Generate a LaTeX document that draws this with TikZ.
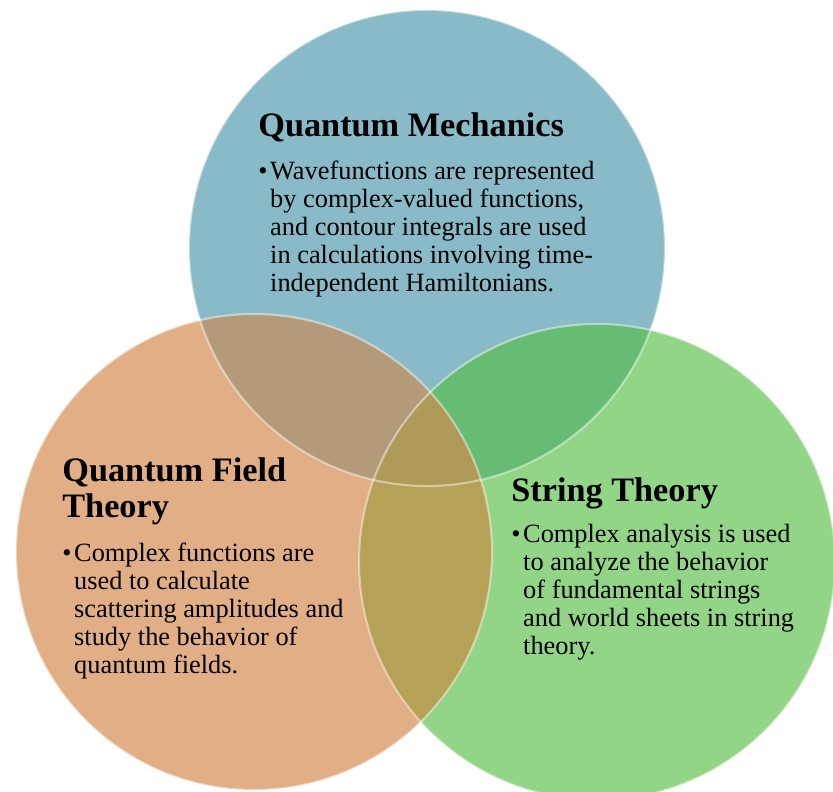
\documentclass[tikz,border=0pt]{standalone}
\usepackage{fontspec}
\setmainfont{Liberation Serif}
\usetikzlibrary{positioning}

\definecolor{qmblue}{HTML}{88BAC7}
\definecolor{qftorange}{HTML}{E1AE85}
\definecolor{stgreen}{HTML}{92D586}
\definecolor{qmqft}{HTML}{B39B7A}
\definecolor{qmst}{HTML}{66BC73}
\definecolor{qftst}{HTML}{B6A256}
\definecolor{allthree}{HTML}{AE9B5A}

\begin{document}
\begin{tikzpicture}[
  headtext/.style={inner sep=0pt, anchor=base west,
    font=\fontsize{19.5}{20}\selectfont\bfseries},
  bodytext/.style={inner sep=0pt, anchor=base west,
    font=\fontsize{15}{15.9}\selectfont}]

\def\rr{4.76}  %% all three circles share one radius
\useasboundingbox (0,0) rectangle (16.66,15.82);

%% Circle centres
\coordinate (cQM)  at (8.54,10.86);
\coordinate (cQFT) at (5.08,4.78);
\coordinate (cST)  at (11.94,4.58);

%% Circles
\fill[qmblue]    (cQM)  circle (\rr);
\fill[stgreen]   (cST)  circle (\rr);
\fill[qftorange] (cQFT) circle (\rr);

%% Overlaps
\begin{scope}
  \clip (cQM) circle (\rr);
  \fill[qmst]  (cST)  circle (\rr);
  \fill[qmqft] (cQFT) circle (\rr);
\end{scope}
\begin{scope}
  \clip (cST) circle (\rr);
  \fill[qftst] (cQFT) circle (\rr);
  \clip (cQM) circle (\rr);
  \fill[allthree] (cQFT) circle (\rr);
\end{scope}

%% Glassy rims
\foreach \c in {cQM, cST, cQFT}
  \draw[white, opacity=0.45, line width=1.2pt] (\c) circle (\rr);

%% Quantum Mechanics
\node[headtext] (qmT) at (5.16,13.08) {Quantum Mechanics};
\node[bodytext] (qmB) at ([yshift=-0.86cm]qmT.base west)
  {\begin{tabular}[t]{@{}l@{\hspace{1.5pt}}l@{}}
   \textbullet & Wavefunctions are represented\\
               & by complex-valued functions,\\
               & and contour integrals are used\\
               & in calculations involving time-\\
               & independent Hamiltonians.
   \end{tabular}};

%% Quantum Field Theory
\node[headtext] (qftT) at (1.24,6.18)
  {\begin{tabular}[t]{@{}l@{}}Quantum Field\\Theory\end{tabular}};
\node[bodytext] (qftB) at ([yshift=-1.60cm]qftT.base west)
  {\begin{tabular}[t]{@{}l@{\hspace{1.5pt}}l@{}}
   \textbullet & Complex functions are\\
               & used to calculate\\
               & scattering amplitudes and\\
               & study the behavior of\\
               & quantum fields.
   \end{tabular}};

%% String Theory
\node[headtext] (stT) at (10.22,5.78) {String Theory};
\node[bodytext] (stB) at ([yshift=-0.82cm]stT.base west)
  {\begin{tabular}[t]{@{}l@{\hspace{1.5pt}}l@{}}
   \textbullet & Complex analysis is used\\
               & to analyze the behavior\\
               & of fundamental strings\\
               & and world sheets in string\\
               & theory.
   \end{tabular}};

\end{tikzpicture}
\end{document}
